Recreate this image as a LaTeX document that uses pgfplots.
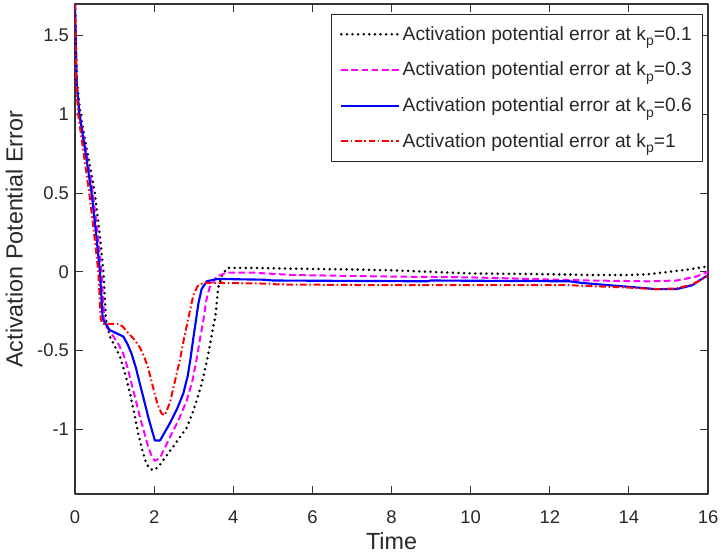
\documentclass[border=0pt]{standalone}
\usepackage{pgfplots}
\pgfplotsset{compat=1.18}
\usepackage{fontspec}
\setmainfont{Liberation Sans}
\definecolor{txt}{RGB}{40,40,40}
\definecolor{mag}{RGB}{255,0,255}
\definecolor{bl}{RGB}{0,0,255}
\definecolor{rd}{RGB}{255,0,0}
\newcommand{\kp}{k\raisebox{-0.55ex}{\fontsize{10.5}{12}\selectfont p}}
\begin{document}
\begin{tikzpicture}
\path[use as bounding box] (-56.25pt,-47.25pt) rectangle (486pt,370.5pt);
\begin{axis}[
  scale only axis, width=474.75pt, height=367.5pt,
  at={(0,0)}, anchor=south west,
  xmin=0, xmax=16, ymin=-1.41, ymax=1.70,
  xtick={0,2,...,16}, ytick={-1,-0.5,0,0.5,1,1.5},
  yticklabels={-1,-0.5,0,0.5,1,1.5},
  tick align=inside, major tick length=6pt,
  axis line style={black!80, line width=0.8pt},
  tick style={black!80, line width=0.6pt},
  /pgf/number format/assume math mode=true,
  tick label style={font=\fontsize{13.8}{16}\selectfont, text=txt},
  xticklabel style={yshift=-9pt},
  yticklabel style={xshift=-1pt},
  xlabel={Time}, ylabel={Activation Potential Error},
  label style={font=\fontsize{17.5}{20}\selectfont, text=txt},
  x label style={at={(axis description cs:0.5,0)}, anchor=center, yshift=-35pt},
  y label style={at={(axis description cs:-0.096,0.52)}, anchor=center},
  legend style={at={(axis description cs:0.992,0.98)}, anchor=north east,
    font=\fontsize{14.4}{16}\selectfont, text=txt, draw=black!85, line width=0.8pt,
    row sep=10.8pt, inner xsep=6pt, inner ysep=7pt, cells={anchor=west}},
  legend image code/.code={\draw[#1] (0pt,0pt) -- (43pt,0pt);},
  line join=round,
]
\addplot[black, line width=2.1pt, dash pattern=on 0pt off 4.2pt, line cap=round] coordinates {
(0,1.70)(0.05,1.20)(0.14,1.00)(0.32,0.75)(0.50,0.50)(0.62,0.25)(0.72,0.00)(0.78,-0.30)(0.82,-0.35)(0.88,-0.41)(1.00,-0.47)(1.14,-0.54)(1.27,-0.65)(1.39,-0.77)(1.50,-0.90)(1.60,-1.03)(1.71,-1.14)(1.81,-1.22)(1.90,-1.25)(1.98,-1.26)(2.10,-1.24)(2.30,-1.17)(2.48,-1.11)(2.65,-1.05)(2.82,-0.99)(2.95,-0.91)(3.07,-0.82)(3.17,-0.74)(3.27,-0.64)(3.37,-0.52)(3.47,-0.38)(3.55,-0.28)(3.62,-0.10)(3.72,-0.02)(3.85,0.025)(4.5,0.025)(5.5,0.02)(7,0.015)(8,0.01)(9,0.0)(10,-0.01)(12,-0.015)(13,-0.02)(14,-0.02)(14.5,-0.015)(15,0.0)(15.5,0.015)(16,0.035)};
\addlegendentry{Activation potential error at \kp=0.1}
\addplot[mag, line width=1.5pt, dash pattern=on 5pt off 2.6pt] coordinates {
(0,1.70)(0.04,1.20)(0.12,1.00)(0.29,0.75)(0.45,0.50)(0.57,0.25)(0.67,0.00)(0.74,-0.30)(0.80,-0.35)(0.97,-0.41)(1.10,-0.46)(1.22,-0.52)(1.33,-0.61)(1.43,-0.71)(1.54,-0.82)(1.64,-0.92)(1.75,-1.02)(1.85,-1.11)(1.94,-1.17)(2.02,-1.20)(2.15,-1.18)(2.40,-1.05)(2.60,-0.95)(2.82,-0.82)(2.97,-0.69)(3.07,-0.56)(3.15,-0.44)(3.25,-0.30)(3.32,-0.18)(3.40,-0.10)(3.58,-0.03)(3.83,-0.005)(4.5,-0.005)(5.5,-0.02)(8,-0.03)(10,-0.035)(11.5,-0.045)(13,-0.055)(14.5,-0.06)(15.2,-0.055)(15.7,-0.03)(16,0.0)};
\addlegendentry{Activation potential error at \kp=0.3}
\addplot[bl, line width=1.6pt] coordinates {
(0,1.70)(0.04,1.20)(0.11,1.00)(0.27,0.75)(0.42,0.50)(0.53,0.25)(0.63,0.00)(0.70,-0.30)(0.80,-0.34)(0.88,-0.37)(1.05,-0.39)(1.22,-0.41)(1.33,-0.46)(1.43,-0.52)(1.54,-0.61)(1.64,-0.71)(1.75,-0.82)(1.85,-0.92)(1.95,-1.01)(2.02,-1.07)(2.15,-1.07)(2.40,-0.96)(2.58,-0.87)(2.74,-0.77)(2.85,-0.66)(2.92,-0.55)(2.98,-0.44)(3.05,-0.32)(3.12,-0.20)(3.20,-0.11)(3.33,-0.06)(3.6,-0.045)(4.8,-0.05)(5.0,-0.055)(8.9,-0.06)(9.0,-0.055)(12.5,-0.06)(12.8,-0.07)(13.5,-0.085)(14,-0.095)(14.7,-0.11)(15.2,-0.11)(15.6,-0.085)(16,-0.02)};
\addlegendentry{Activation potential error at \kp=0.6}
\addplot[rd, line width=1.5pt, dash pattern=on 5pt off 2pt on 1.2pt off 2pt] coordinates {
(0,1.70)(0.03,1.20)(0.08,1.00)(0.22,0.75)(0.36,0.50)(0.48,0.25)(0.59,0.00)(0.65,-0.30)(0.70,-0.33)(0.90,-0.33)(1.10,-0.33)(1.22,-0.35)(1.35,-0.39)(1.50,-0.43)(1.64,-0.48)(1.75,-0.54)(1.85,-0.61)(1.94,-0.70)(2.02,-0.78)(2.10,-0.85)(2.19,-0.90)(2.27,-0.91)(2.40,-0.83)(2.52,-0.70)(2.65,-0.56)(2.75,-0.43)(2.86,-0.30)(2.99,-0.15)(3.10,-0.09)(3.24,-0.07)(3.5,-0.07)(5,-0.075)(5.1,-0.08)(8,-0.085)(12.5,-0.085)(13,-0.09)(14,-0.10)(14.7,-0.11)(15.2,-0.105)(15.6,-0.08)(16,-0.025)};
\addlegendentry{Activation potential error at \kp=1}
\end{axis}
\end{tikzpicture}
\end{document}
